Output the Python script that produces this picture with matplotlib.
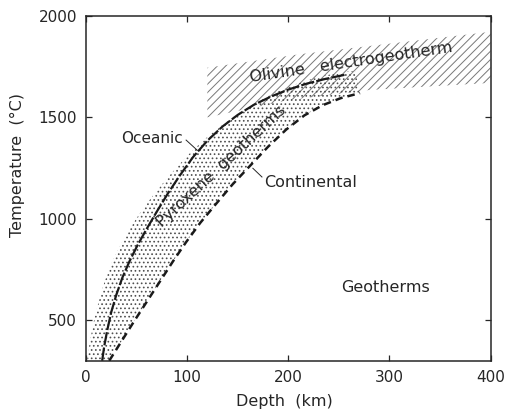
import matplotlib
matplotlib.use("Agg")
import matplotlib.pyplot as plt
from matplotlib.patches import Polygon

# ---- data (depth km, temperature °C) ----
oceanic_depth = [16, 18, 21, 25, 30, 36, 43, 51, 60, 70, 81, 93, 106, 120,
                 135, 150, 166, 183, 200, 218, 237, 256]
oceanic_temp = [300, 370, 450, 540, 625, 710, 790, 870, 950, 1035, 1125, 1215,
                1305, 1385, 1455, 1512, 1562, 1603, 1637, 1666, 1690, 1710]

continental_depth = [23, 35, 47, 60, 73, 86, 99, 113, 128, 145, 162, 180, 198,
                     216, 234, 252, 271]
continental_temp = [300, 395, 490, 590, 690, 790, 885, 980, 1070, 1170, 1260,
                    1355, 1440, 1510, 1560, 1595, 1620]

pyroxene_left_depth = [1, 4, 8, 13, 19, 26, 34, 43, 53, 64, 76, 89, 103, 118,
                       134, 151, 169, 188, 208, 230, 252, 266]
pyroxene_left_temp = [300, 400, 500, 600, 700, 790, 870, 950, 1025, 1100, 1175,
                      1250, 1325, 1395, 1460, 1520, 1575, 1625, 1665, 1700, 1722, 1730]

olivine_top_depth = [120, 212, 400]
olivine_top_temp = [1745, 1812, 1922]
olivine_bottom_depth = [120, 200, 280, 400]
olivine_bottom_temp = [1500, 1585, 1635, 1670]

x_ticks = [0, 100, 200, 300, 400]
y_ticks = [500, 1000, 1500, 2000]

ink = "#262626"
plt.rcParams["font.family"] = ["DejaVu Sans"]
plt.rcParams["hatch.linewidth"] = 0.7

fig = plt.figure(figsize=(5.07, 4.12), dpi=100)
ax = fig.add_axes([0.1696, 0.1245, 0.7979, 0.8367])

# olivine electrogeotherm band (hatched)
olv = list(zip(olivine_top_depth, olivine_top_temp)) + \
      list(zip(olivine_bottom_depth[::-1], olivine_bottom_temp[::-1]))
ax.add_patch(Polygon(olv, closed=True, facecolor="none", edgecolor="#787878",
                     linewidth=0, hatch="////", zorder=1))

# pyroxene geotherms (stippled)
pyr = list(zip(pyroxene_left_depth, pyroxene_left_temp)) + \
      list(zip(continental_depth[::-1], continental_temp[::-1]))
ax.add_patch(Polygon(pyr, closed=True, facecolor="none", edgecolor="#505050",
                     linewidth=0, hatch="....", zorder=1))

# geotherms
ax.plot(oceanic_depth, oceanic_temp, color="#1a1a1a", lw=1.6,
        linestyle=(0, (6, 1)), zorder=3)
ax.plot(continental_depth, continental_temp, color="#1a1a1a", lw=1.8,
        linestyle=(0, (3, 2)), zorder=3)

# labels
fs = 11.5
ax.text(262, 1770, "Olivine   electrogeotherm", fontsize=fs, color=ink,
        rotation=8.5, ha="center", va="center", zorder=4)
ax.text(65, 1395, "Oceanic", fontsize=11, color=ink, ha="center", va="center", zorder=4)
ax.plot([99, 110], [1388, 1338], color=ink, lw=0.7, zorder=4)
ax.text(134, 1257, "Pyroxene  geotherms", fontsize=fs, color=ink,
        rotation=43, ha="center", va="center", zorder=4)
ax.text(222, 1177, "Continental", fontsize=fs, color=ink, ha="center", va="center", zorder=4)
ax.plot([174, 165], [1206, 1249], color=ink, lw=0.7, zorder=4)
ax.text(296, 662, "Geotherms", fontsize=fs, color=ink, ha="center", va="center", zorder=4)

ax.set_xlim(0, 400)
ax.set_ylim(300, 2000)
ax.set_xticks(x_ticks)
ax.set_yticks(y_ticks)
ax.tick_params(direction="in", length=4, width=0.9, colors=ink, labelsize=11,
               top=True, right=True, pad=6.5)
for s in ax.spines.values():
    s.set_linewidth(1.1)
    s.set_color(ink)

ax.set_xlabel("Depth  (km)", fontsize=11.5, color=ink)
ax.set_ylabel("Temperature  (°C)", fontsize=11.5, color=ink)
ax.xaxis.set_label_coords(0.49, -0.098)
ax.yaxis.set_label_coords(-0.15, 0.568)

fig.savefig("out.png", dpi=100)
